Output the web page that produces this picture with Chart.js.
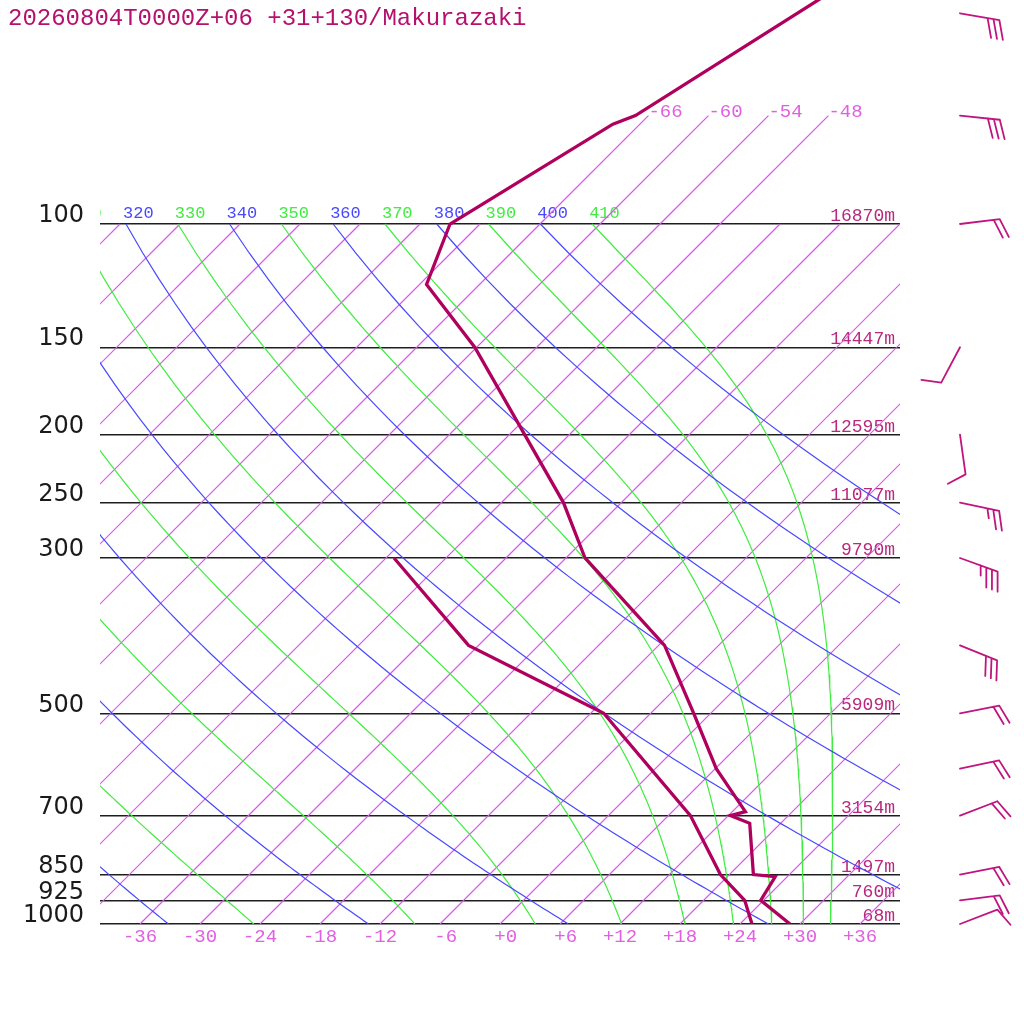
<!DOCTYPE html>
<html lang="en">
<head>
<meta charset="UTF-8">
<title>Makurazaki sounding</title>
<style>
  html, body { margin: 0; padding: 0; background: #fff; }
  canvas { display: block; }
</style>
</head>
<body>
<canvas id="skewT" width="1024" height="1024"></canvas>
<script src="https://cdnjs.cloudflare.com/ajax/libs/Chart.js/4.4.1/chart.umd.js"></script>
<script>
const title = '20260804T0000Z+06 +31+130/Makurazaki';

// temperature profile (hPa, degC)
const tempP = [1000, 925, 856, 850, 718, 700, 691, 600, 500, 400, 300, 250, 150, 122, 100, 72, 70, 30];
const tempT = [29.0, 23.7, 22.8, 20.4, 14.9, 12.2, 13.3, 6.1, -1.7, -11.4, -28.1, -35.8, -60.2, -71.3, -75.0, -68.7, -67.3, -52.3];
// dew point profile
const dewP = [1000, 925, 850, 700, 500, 400, 300];
const dewT = [25.2, 22.1, 17.1, 8.2, -10.7, -31.0, -47.2];

// mandatory levels + geopotential heights
const levels = [100, 150, 200, 250, 300, 500, 700, 850, 925, 1000];
const heights = ['16870m', '14447m', '12595m', '11077m', '9790m', '5909m', '3154m', '1497m', '760m', '68m'];

// winds (deg, kt)
const windP = [50, 70, 100, 150, 200, 250, 300, 400, 500, 600, 700, 850, 925, 1000];
const windDir = [100, 96, 83, 208, 172, 102, 110, 112, 79, 78, 69, 79, 83, 69];
const windKt = [30, 30, 20, 10, 10, 25, 35, 30, 20, 20, 20, 20, 20, 10];

// background lines
const isotherms = [-108, -102, -96, -90, -84, -78, -72, -66, -60, -54, -48, -42, -36, -30, -24, -18, -12, -6, 0, 6, 12, 18, 24, 30, 36];
const upperIsotherms = [-66, -60, -54, -48];
const dryThetas = [240, 260, 280, 300, 320, 340, 360, 380, 400];
const moistThetas = [250, 270, 290, 310, 330, 350, 370, 390, 410];
const tempTicks = [-36, -30, -24, -18, -12, -6, 0, 6, 12, 18, 24, 30, 36];

const SKEW = 70;      // degC shift per decade of pressure (45 deg)
const KAPPA = 0.2857;
const PTOP = 1000 / Math.pow(10, 924 / 700);

const PROFILE = '#b0005e';
const ISO = 'rgb(218, 86, 236)';
const ISO_TXT = '#e060e0';
const BLUE = 'rgb(72, 72, 255)';
const GREEN = 'rgb(64, 236, 64)';
const HGT = '#b8287e';

function skewX(t, p) { return t + SKEW * Math.log10(1000 / p); }

function satMix(T, p) {
  const es = 6.112 * Math.exp(17.67 * (T - 273.15) / (T - 29.65));
  return 0.622 * es / (p - es);
}
function moistLapse(T, p) {
  const Rd = 287.04, Cp = 1005.7, Lv = 2.501e6, eps = 0.622;
  const rs = satMix(T, p);
  return (Rd * T + Lv * rs) / (p * (Cp + Lv * Lv * rs * eps / (Rd * T * T)));
}

function dryCurve(theta) {
  const pts = [];
  for (let p = 1000; p >= 100; p -= 10) {
    pts.push({ x: skewX(theta * Math.pow(p / 1000, KAPPA) - 273.15, p), y: p });
  }
  return pts;
}
function moistCurve(theta) {
  let p = 100, T = theta * Math.pow(0.1, KAPPA);
  const pts = [{ x: skewX(T - 273.15, p), y: p }];
  const h = 2;
  while (p < 1000) {
    const k1 = moistLapse(T, p);
    const k2 = moistLapse(T + k1 * h / 2, p + h / 2);
    T += k2 * h; p += h;
    if (p % 10 === 0) pts.push({ x: skewX(T - 273.15, p), y: p });
  }
  return pts;
}

const datasets = [];
datasets.push({ data: tempP.map((p, i) => ({ x: skewX(tempT[i], p), y: p })), borderColor: PROFILE, borderWidth: 3.3, order: 0 });
datasets.push({ data: dewP.map((p, i) => ({ x: skewX(dewT[i], p), y: p })), borderColor: PROFILE, borderWidth: 3.3, order: 0 });
isotherms.forEach(t => {
  datasets.push({ data: [{ x: skewX(t, 1000), y: 1000 }, { x: skewX(t, 100), y: 100 }], borderColor: ISO, borderWidth: 1.2, order: 3 });
});
upperIsotherms.forEach(t => {
  datasets.push({ data: [{ x: skewX(t, 100), y: 100 }, { x: skewX(t, 70), y: 70 }], borderColor: ISO, borderWidth: 1.2, order: 3 });
});
const moistLines = {};
dryThetas.forEach(th => {
  datasets.push({ data: dryCurve(th), borderColor: BLUE, borderWidth: 1.2, order: 2 });
});
moistThetas.forEach(th => {
  moistLines[th] = moistCurve(th);
  datasets.push({ data: moistLines[th], borderColor: GREEN, borderWidth: 1.2, order: 2 });
});
datasets.forEach(d => { d.showLine = true; d.pointRadius = 0; d.fill = false; d.backgroundColor = d.borderColor; });

function drawBarb(ctx, cx, cy, dir, kt) {
  const a = dir * Math.PI / 180;
  const ux = Math.sin(a), uy = -Math.cos(a);
  const r = 70 * Math.PI / 180;
  const vx = ux * Math.cos(r) - uy * Math.sin(r);
  const vy = ux * Math.sin(r) + uy * Math.cos(r);
  const tx = cx + ux * 40, ty = cy + uy * 40;
  ctx.beginPath();
  ctx.moveTo(cx, cy);
  ctx.lineTo(tx, ty);
  let rest = Math.round(kt / 5) * 5, pos = 0;
  while (rest >= 10) {
    const bx = tx - ux * pos, by = ty - uy * pos;
    ctx.moveTo(bx, by); ctx.lineTo(bx + vx * 20, by + vy * 20);
    pos += 6; rest -= 10;
  }
  if (rest >= 5) {
    const bx = tx - ux * pos, by = ty - uy * pos;
    ctx.moveTo(bx, by); ctx.lineTo(bx + vx * 10, by + vy * 10);
  }
  ctx.stroke();
}

const decor = {
  id: 'decor',
  beforeDatasetsDraw(chart) {
    const { ctx, chartArea: ca, scales: { x, y } } = chart;
    const y100 = y.getPixelForValue(100);
    ctx.save();
    ctx.beginPath();
    ctx.rect(ca.left, 0, ca.right - ca.left, ca.bottom);
    ctx.clip();
    ctx.font = '17px "Liberation Mono"';
    ctx.textAlign = 'left';
    ctx.textBaseline = 'alphabetic';
    dryThetas.forEach(th => {
      const px = x.getPixelForValue(skewX(th * Math.pow(0.1, KAPPA) - 273.15, 100));
      ctx.fillStyle = BLUE;
      ctx.fillText(String(th), px - 3, y100 - 6);
    });
    moistThetas.forEach(th => {
      const px = x.getPixelForValue(moistLines[th][0].x);
      ctx.fillStyle = GREEN;
      ctx.fillText(String(th), px - 3, y100 - 6);
    });
    ctx.restore();

    ctx.save();
    ctx.font = '19px "Liberation Mono"';
    ctx.fillStyle = ISO_TXT;
    ctx.textAlign = 'left';
    upperIsotherms.forEach(t => {
      ctx.fillText(String(t), x.getPixelForValue(skewX(t, 70)), y.getPixelForValue(70) + 1);
    });
    ctx.font = '18px "Liberation Mono"';
    ctx.fillStyle = HGT;
    ctx.textAlign = 'right';
    levels.forEach((p, i) => {
      ctx.fillText(heights[i], ca.right - 5, y.getPixelForValue(p) - 3);
    });
    ctx.restore();
  },
  afterDraw(chart) {
    const { ctx, scales: { y } } = chart;
    ctx.save();
    ctx.font = '24px "Liberation Mono"';
    ctx.fillStyle = '#b5106e';
    ctx.textAlign = 'left';
    ctx.textBaseline = 'alphabetic';
    ctx.fillText(title, 8, 25);
    ctx.strokeStyle = '#c0157f';
    ctx.lineWidth = 1.8;
    ctx.lineCap = 'round';
    windP.forEach((p, i) => drawBarb(ctx, 960, y.getPixelForValue(p), windDir[i], windKt[i]));
    ctx.restore();
  }
};

new Chart(document.getElementById('skewT'), {
  type: 'scatter',
  data: { datasets: datasets },
  options: {
    responsive: false,
    animation: false,
    devicePixelRatio: 1,
    events: [],
    layout: { padding: { left: 0, right: 124, top: 0, bottom: 0 }, autoPadding: false },
    plugins: { legend: { display: false }, tooltip: { enabled: false } },
    elements: { line: { tension: 0 } },
    scales: {
      x: {
        type: 'linear', min: -40, max: 40,
        afterFit(s) { s.height = 100; s.paddingLeft = 0; s.paddingRight = 0; },
        afterBuildTicks(s) { s.ticks = tempTicks.map(v => ({ value: v })); },
        grid: { display: false, drawTicks: false },
        border: { display: false },
        ticks: {
          autoSkip: false, maxRotation: 0, padding: 2,
          color: ISO_TXT,
          font: { family: 'Liberation Mono', size: 19 },
          callback: v => (v >= 0 ? '+' + v : String(v)).padStart(3, ' ')
        }
      },
      y: {
        type: 'logarithmic', min: PTOP, max: 1000, reverse: true,
        afterFit(s) { s.width = 100; s.paddingTop = 0; s.paddingBottom = 0; },
        afterBuildTicks(s) { s.ticks = levels.map(v => ({ value: v })); },
        grid: { color: '#1e1e1e', lineWidth: 1.4, drawTicks: false },
        border: { display: false },
        ticks: {
          autoSkip: false, padding: 16, labelOffset: -8,
          color: '#1a1a1a',
          font: { family: 'DejaVu Sans', size: 24 },
          callback: v => String(v)
        }
      }
    }
  },
  plugins: [decor]
});
</script>
</body>
</html>
